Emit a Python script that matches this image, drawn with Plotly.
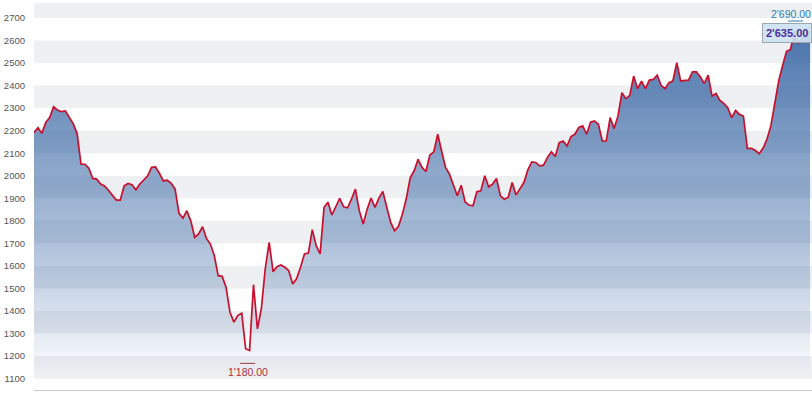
import plotly.graph_objects as go

values = [
    2191, 2213, 2188, 2236, 2258, 2306, 2291, 2284, 2287, 2260,
    2231, 2187, 2051, 2051, 2033, 1988, 1985, 1963, 1955, 1936,
    1914, 1892, 1892, 1955, 1966, 1960, 1938, 1963, 1981, 2000,
    2037, 2039, 2011, 1977, 1980, 1966, 1941, 1833, 1812, 1845,
    1800, 1727, 1742, 1774, 1722, 1697, 1646, 1557, 1554, 1506,
    1395, 1351, 1380, 1391, 1233, 1225, 1517, 1321, 1410, 1587,
    1705, 1575, 1597, 1604, 1594, 1579, 1520, 1543, 1594, 1653,
    1657, 1761, 1690, 1653, 1860, 1882, 1826, 1864, 1900, 1862,
    1858,
    1896, 1941, 1845, 1786, 1852, 1901, 1860, 1901, 1930, 1867,
    1793, 1756, 1776, 1830, 1900, 1992, 2022, 2073, 2037, 2019,
    2092, 2106, 2184, 2110, 2037, 2007, 1955, 1911, 1958, 1884,
    1870, 1867, 1929, 1933, 2000, 1951, 1963, 1988, 1911, 1896,
    1905,
    1970, 1915, 1944, 1970, 2026, 2061, 2059, 2044, 2047, 2081,
    2106, 2085, 2147, 2154, 2132, 2174, 2184, 2214, 2221, 2184,
    2238, 2243, 2228, 2154, 2154, 2258, 2209, 2265, 2368, 2342,
    2356, 2442, 2386, 2420, 2386, 2424, 2427, 2446, 2401, 2386,
    2413,
    2420, 2501, 2420, 2423, 2424, 2461, 2461, 2439, 2409, 2446,
    2353, 2365, 2334, 2321, 2302, 2258, 2290, 2272, 2265, 2121,
    2122, 2113, 2098, 2122, 2162, 2221, 2324, 2420, 2489, 2552,
    2560, 2635, 2587, 2612, 2636, 2638,
]
x_idx = list(range(len(values)))

y_ticks = [1100, 1200, 1300, 1400, 1500, 1600, 1700, 1800, 1900,
           2000, 2100, 2200, 2300, 2400, 2500, 2600, 2700]
band_starts = [1100, 1300, 1500, 1700, 1900, 2100, 2300, 2500, 2700]

low_label = "1'180.00"
low_value = 1180
high_label = "2'690.00"
high_value = 2690
hover_label = "2'635.00"
hover_index = 194
low_index = 54.5
high_index = 194.3

Y_MIN, Y_MAX = 1050, 2766
X_MAX = len(values) - 1 + 0.5

fig = go.Figure()

fig.add_trace(go.Scatter(
    x=x_idx, y=values, mode="lines",
    line=dict(color="#c8102e", width=1.7),
    fill="tozeroy",
    fillgradient=dict(
        type="vertical", start=1100, stop=2680,
        colorscale=[[0, "rgba(58,104,165,0.0)"], [0.35, "rgba(58,104,165,0.38)"],
                    [1, "rgba(58,104,165,0.93)"]],
    ),
    hoverinfo="skip",
))

shapes = []
for lo in band_starts:
    shapes.append(dict(type="rect", xref="paper", yref="y", x0=0, x1=1,
                       y0=lo, y1=min(lo + 100, Y_MAX), fillcolor="#eff0f2",
                       line=dict(width=0), layer="below"))
# low marker line
shapes.append(dict(type="line", xref="x", yref="y", x0=low_index - 1.9, x1=low_index + 1.9,
                   y0=low_value - 12, y1=low_value - 12, line=dict(color="#a8323c", width=1)))
# high marker line
shapes.append(dict(type="line", xref="x", yref="y", x0=high_index - 1.9, x1=high_index + 1.9,
                   y0=high_value - 4, y1=high_value - 4, line=dict(color="#2d7db3", width=1)))

annotations = [
    dict(x=low_index, y=1131, xref="x", yref="y", text=low_label, showarrow=False,
         font=dict(family="Liberation Sans, Arial", size=10.5, color="#a8323c"),
         xanchor="center", yanchor="middle"),
    dict(x=1, y=2716, xref="paper", yref="y", text=high_label, showarrow=False,
         font=dict(family="Liberation Sans, Arial", size=10.5, color="#2d7db3"),
         xanchor="right", yanchor="middle", xshift=1),
    dict(x=hover_index - 1.9, y=values[hover_index], xref="x", yref="y",
         text="<b>" + hover_label + "</b>", showarrow=False,
         font=dict(family="Liberation Sans, Arial", size=11, color="#4b2c9c"),
         bgcolor="rgba(205,226,240,0.92)", bordercolor="#9aa6b0", borderwidth=1,
         borderpad=3, xanchor="center", yanchor="middle"),
]

fig.add_trace(go.Scatter(
    x=[hover_index], y=[values[hover_index]], mode="markers",
    marker=dict(color="#7a3fb0", size=4), hoverinfo="skip",
))

fig.update_layout(
    width=812, height=395,
    margin=dict(l=34, r=0, t=3, b=5),
    paper_bgcolor="white", plot_bgcolor="white",
    showlegend=False,
    shapes=shapes, annotations=annotations,
    xaxis=dict(range=[0, X_MAX], showgrid=False, zeroline=False,
               showticklabels=False, ticks="", showline=True,
               linecolor="#c9c9c9", linewidth=1, fixedrange=True),
    yaxis=dict(range=[Y_MIN, Y_MAX], tickvals=y_ticks, showgrid=False, zeroline=False,
               ticks="", ticklabelstandoff=8, automargin=False,
               tickfont=dict(family="Liberation Sans, Arial", size=9.5, color="#555555"),
               fixedrange=True),
)

fig.write_html(
    "out.html",
    config={"displayModeBar": False},
    post_script="document.body.style.margin='0';document.body.style.overflow='hidden';",
)
